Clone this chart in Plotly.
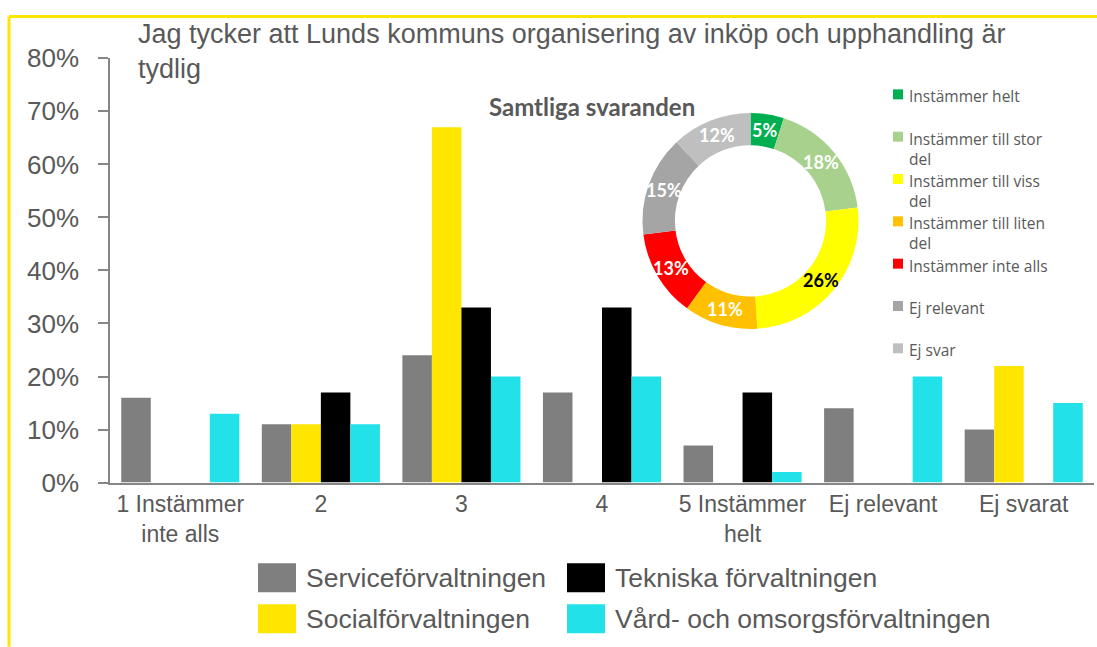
import math
import plotly.graph_objects as go

# ---------------- data ----------------
categories = ["1 Instämmer<br>inte alls", "2", "3", "4", "5 Instämmer<br>helt", "Ej relevant", "Ej svarat"]
series_names = ["Serviceförvaltningen", "Socialförvaltningen", "Tekniska förvaltningen", "Vård- och omsorgsförvaltningen"]
service = [16, 11, 24, 17, 7, 14, 10]
social = [0, 11, 67, 0, 0, 0, 22]
tekniska = [0, 17, 33, 33, 17, 0, 0]
vard = [13, 11, 20, 20, 2, 20, 15]
series_values = [service, social, tekniska, vard]
series_colors = ["#7F7F7F", "#FFE600", "#000000", "#22E1E8"]

donut_labels = ["Instämmer helt", "Instämmer till stor del", "Instämmer till viss del",
                "Instämmer till liten del", "Instämmer inte alls", "Ej relevant", "Ej svar"]
donut_values = [5, 18, 26, 11, 13, 15, 12]
donut_colors = ["#00B050", "#A9D18E", "#FFFF00", "#FFC000", "#FF0000", "#A5A5A5", "#BFBFBF"]
donut_text_colors = ["white", "white", "black", "white", "white", "white", "white"]

y_ticks = [0, 10, 20, 30, 40, 50, 60, 70, 80]
y_ticktext = ["0%", "10%", "20%", "30%", "40%", "50%", "60%", "70%", "80%"]

title_text = "Jag tycker att Lunds kommuns organisering av inköp och upphandling är<br>tydlig"
donut_title = "Samtliga svaranden"

W, H = 1097, 647
TXT = "#595959"

# the figure is shown inside a slightly shorter frame: map target pixel rows onto it
OFF_Y, EFF_H = 15.7, 616.6


def px(x):
    return x / W


def py(y):
    return 1 - (y - OFF_Y) / EFF_H


fig = go.Figure()

for name, vals, col in zip(series_names, series_values, series_colors):
    fig.add_trace(go.Bar(x=categories, y=vals, name=name, marker=dict(color=col, line=dict(width=0)),
                         showlegend=False, xaxis="x", yaxis="y"))

# donut geometry (pixels)
DCX, DCY, DR = 750.5, 221.5, 108
fig.add_trace(go.Pie(
    labels=donut_labels, values=donut_values, sort=False, direction="clockwise", rotation=0,
    hole=0.70, marker=dict(colors=donut_colors, line=dict(width=0)),
    textinfo="none",
    domain=dict(x=[px(DCX - DR), px(DCX + DR)], y=[py(DCY + DR), py(DCY - DR)]),
    showlegend=False,
))

shapes = []
annotations = []

# donut percentage labels at the middle of each slice
total = sum(donut_values)
cum = 0
for v, tc in zip(donut_values, donut_text_colors):
    ang = 2 * math.pi * (cum + v / 2) / total
    cum += v
    lx = DCX + 92 * math.sin(ang)
    ly = DCY - 92 * math.cos(ang)
    annotations.append(dict(text="<b>%d%%</b>" % v, xref="paper", yref="paper", x=px(lx), y=py(ly),
                            xanchor="center", yanchor="middle", showarrow=False,
                            font=dict(family="Lato", size=18, color=tc)))

# yellow frame (top and left)
top_y = min(py(9), 1 - 1.5 / EFF_H)
shapes.append(dict(type="line", xref="paper", yref="paper", x0=px(9), x1=px(1097), y0=top_y, y1=top_y,
                   line=dict(color="#FFE600", width=3)))
shapes.append(dict(type="line", xref="paper", yref="paper", x0=px(9), x1=px(9), y0=top_y, y1=py(647),
                   line=dict(color="#FFE600", width=3)))

# title
annotations.append(dict(text=title_text, xref="paper", yref="paper", x=px(136), y=py(18),
                        xanchor="left", yanchor="top", align="left", showarrow=False,
                        font=dict(family="Liberation Sans", size=27, color=TXT)))
# donut title
annotations.append(dict(text="<b>" + donut_title + "</b>", xref="paper", yref="paper", x=px(487), y=py(107),
                        xanchor="left", yanchor="middle", showarrow=False,
                        font=dict(family="Lato", size=24, color=TXT)))


def wrap(s, n=20):
    words = s.split(" ")
    lines, cur = [], ""
    for w in words:
        if cur and len(cur) + 1 + len(w) > n:
            lines.append(cur)
            cur = w
        else:
            cur = (cur + " " + w) if cur else w
    lines.append(cur)
    return "<br>".join(lines)


for i, (lab, col) in enumerate(zip(donut_labels, donut_colors)):
    yc = 95 + i * 42.3
    shapes.append(dict(type="rect", xref="paper", yref="paper", x0=px(893), x1=px(903),
                       y0=py(yc - 5), y1=py(yc + 5), fillcolor=col, line=dict(width=0)))
    annotations.append(dict(text=wrap(lab), xref="paper", yref="paper", x=px(908), y=py(yc - 10),
                            xanchor="left", yanchor="top", align="left", showarrow=False, borderpad=0,
                            font=dict(family="Open Sans", size=15.5, color=TXT)))

# bottom legend
for i, (name, col) in enumerate(zip(series_names, series_colors)):
    col_i, row_i = i // 2, i % 2
    x0 = 258 if col_i == 0 else 567
    yc = 578 if row_i == 0 else 619
    shapes.append(dict(type="rect", xref="paper", yref="paper", x0=px(x0), x1=px(x0 + 38),
                       y0=py(yc - 14.5), y1=py(yc + 14.5), fillcolor=col, line=dict(width=0)))
    annotations.append(dict(text=name, xref="paper", yref="paper", x=px(x0 + 46), y=py(yc),
                            xanchor="left", yanchor="middle", showarrow=False,
                            font=dict(family="Liberation Sans", size=26.5, color=TXT)))

fig.update_layout(
    width=W, height=H,
    margin=dict(l=0, r=0, t=0, b=0),
    paper_bgcolor="white", plot_bgcolor="white",
    barmode="group", bargap=0.16, bargroupgap=0,
    xaxis=dict(domain=[px(110), px(1094)], showgrid=False, showline=True, linecolor="#868686", linewidth=1.5,
               ticks="", tickfont=dict(family="Liberation Sans", size=23, color=TXT), fixedrange=True),
    yaxis=dict(domain=[py(483), py(59)], range=[0, 80], tickmode="array", tickvals=y_ticks, ticktext=y_ticktext,
               showgrid=False, showline=True, linecolor="#868686", linewidth=1.5,
               ticks="outside", ticklen=10, tickcolor="#868686", tickwidth=1.5, ticklabelstandoff=14,
               tickfont=dict(family="Liberation Sans", size=26, color=TXT), zeroline=False, fixedrange=True),
    shapes=shapes, annotations=annotations,
    showlegend=False,
)

post = ("document.documentElement.style.margin='0';document.body.style.margin='0';"
        "document.documentElement.style.overflow='hidden';document.body.style.overflow='hidden';"
        "var gd=document.getElementById('{plot_id}');gd.style.position='fixed';gd.style.top='0px';gd.style.left='0px';")

fig.write_html("out.html", config={"displayModeBar": False}, post_script=post)
